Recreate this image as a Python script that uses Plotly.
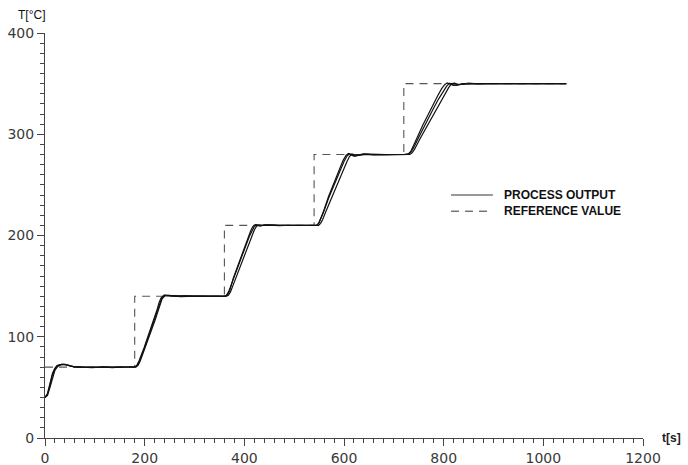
import plotly.graph_objects as go

# Set-point profile (reference value), time in s, temperature in °C
ref_t = [0, 180, 180, 360, 360, 540, 540, 720, 720, 1046]
ref_T = [70, 70, 140, 140, 210, 210, 280, 280, 350, 350]

# Measured process output, three runs (t [s], T [°C])
run_a = [(0, 40), (5, 43), (10, 52), (15, 62), (20, 68), (25, 71), (32, 72.5), (40, 72.8),
         (48, 71.8), (58, 70.4), (75, 70), (95, 69.4), (115, 70.3), (135, 69.6), (155, 70.1),
         (172, 69.9), (182, 70.3), (186, 72), (190, 76), (200, 89), (210, 103), (220, 117),
         (226, 126), (230, 133), (234, 138), (240, 140.8), (250, 141), (265, 139.8), (280, 140.3),
         (300, 139.8), (320, 140), (340, 140), (360, 140), (364, 141), (368, 144), (372, 149),
         (380, 160), (390, 173), (400, 186), (410, 199), (416, 206), (420, 209), (425, 210.6),
         (432, 209.4), (440, 210.5), (455, 210), (470, 209.8), (490, 210.2), (510, 210),
         (530, 210), (545, 210.3), (549, 212), (553, 216), (558, 222), (570, 238), (580, 250),
         (590, 262), (600, 273), (606, 278.5), (611, 280.8), (616, 280), (622, 278.5),
         (630, 279.4), (640, 280.6), (660, 279.6), (680, 280), (700, 280), (720, 280),
         (730, 281), (735, 283), (740, 287), (750, 297), (760, 307), (770, 317), (780, 326),
         (790, 335), (800, 343), (806, 347.5), (812, 350.5), (818, 349), (825, 348.3),
         (835, 349.4), (850, 350.3), (870, 349.8), (900, 350), (950, 350), (1000, 350),
         (1046, 350)]
run_b = [(0, 40), (5, 42), (10, 50), (15, 60), (20, 67), (26, 71), (34, 73), (42, 72.6),
         (52, 71), (65, 70), (90, 70.2), (120, 69.8), (150, 70), (183, 70.2), (187, 72),
         (191, 76), (201, 89), (211, 102.5), (221, 116.5), (227, 125.5), (231, 132.5),
         (235, 137.5), (241, 140.6), (258, 140.5), (275, 140), (300, 140.2), (330, 139.9),
         (364, 140), (368, 141), (372, 144), (376, 149), (384, 159.5), (394, 172.5),
         (404, 185.5), (414, 198.5), (420, 205.5), (424, 208.8), (429, 210.5), (438, 210),
         (460, 210.3), (500, 209.9), (549, 210), (553, 212), (557, 215.5), (563, 223),
         (575, 237.5), (586, 250), (596, 261.5), (606, 273), (611, 278), (616, 280.6),
         (624, 279.3), (640, 280.3), (680, 279.8), (732, 280), (737, 282), (742, 285.5),
         (752, 295), (762, 304), (772, 313), (782, 322), (792, 331), (802, 340), (810, 346),
         (816, 350), (822, 350.5), (830, 349), (845, 349.8), (880, 350), (1046, 350)]
run_c = [(0, 40), (5, 44), (10, 54), (15, 64), (20, 69), (24, 71.5), (30, 72.4), (38, 72.5),
         (46, 71.6), (56, 70.5), (80, 69.8), (110, 70.1), (140, 69.8), (181, 70.2), (185, 72.5),
         (189, 76.5), (199, 89.5), (209, 103.5), (219, 117.5), (225, 127), (229, 134),
         (233, 138.5), (239, 141), (250, 140.4), (272, 139.7), (300, 140.1), (340, 140),
         (363, 140.2), (367, 142), (371, 146), (378, 158), (388, 172), (398, 185),
         (407, 197.5), (413, 205), (417, 208.8), (422, 210.8), (430, 209.6), (445, 210.4),
         (480, 209.9), (546, 210.1), (550, 212.5), (554, 217), (559, 224), (569, 238.5),
         (579, 251), (589, 263), (598, 274), (604, 279), (609, 281), (614, 279.6),
         (620, 278.3), (628, 279.2), (645, 280.2), (690, 279.9), (729, 280.1), (734, 283),
         (739, 288), (748, 298), (758, 309), (768, 319), (778, 329), (788, 338), (796, 345),
         (802, 349), (807, 350.8), (813, 349.4), (820, 348.2), (832, 349.3), (848, 350.2),
         (880, 349.9), (1046, 350)]

x_ticks = [0, 200, 400, 600, 800, 1000, 1200]
y_ticks = [0, 100, 200, 300, 400]

AXIS_COLOR = "#444444"
TICK_FONT = dict(family="DejaVu Sans", size=14, color="#3a3a3a")

fig = go.Figure()

fig.add_trace(go.Scatter(
    x=ref_t, y=ref_T, mode="lines", name="REFERENCE VALUE",
    line=dict(color="#555555", width=1.1, dash="8px,6px"), showlegend=False,
))

for run in (run_b, run_c, run_a):
    t, T = zip(*run)
    fig.add_trace(go.Scatter(
        x=list(t), y=list(T), mode="lines", name="PROCESS OUTPUT",
        line=dict(color="#111111", width=1.2), showlegend=False,
    ))

# Hand-placed legend: sample lines plus labels
legend_x0, legend_x1, label_x = 0.679, 0.749, 0.764
rows = [(0.60, "solid", "PROCESS OUTPUT"), (0.56, "8px,6px", "REFERENCE VALUE")]
for y, dash, label in rows:
    fig.add_shape(type="line", xref="paper", yref="paper",
                  x0=legend_x0, x1=legend_x1, y0=y, y1=y,
                  line=dict(color="#333333", width=1, dash=dash))
    fig.add_annotation(xref="paper", yref="paper", x=label_x, y=y, text=f"<b>{label}</b>",
                       showarrow=False, xanchor="left", yanchor="middle",
                       font=dict(family="Liberation Sans", size=12, color="#111111"))

# Axis titles
fig.add_annotation(xref="paper", yref="paper", x=0.0, y=1.0, xshift=2, yshift=18,
                   text="T[°C]", showarrow=False, xanchor="right", yanchor="middle",
                   font=dict(family="Liberation Sans", size=12, color="#111111"))
fig.add_annotation(xref="paper", yref="paper", x=1.0, y=0.0, xshift=17,
                   text="<b>t[s]</b>", showarrow=False, xanchor="left", yanchor="middle",
                   font=dict(family="Liberation Sans", size=12, color="#222222"))

fig.update_xaxes(
    range=[0, 1200], tickvals=x_ticks, ticktext=[str(v) for v in x_ticks], automargin=False,
    showgrid=False, zeroline=False, showline=True, linecolor=AXIS_COLOR, linewidth=1,
    ticks="outside", ticklen=7, tickwidth=1, tickcolor=AXIS_COLOR, tickfont=TICK_FONT,
    minor=dict(ticks="outside", ticklen=4, tickwidth=1, tickcolor=AXIS_COLOR, dtick=20,
               tick0=0, showgrid=False),
)
fig.update_yaxes(
    range=[0, 400], tickvals=y_ticks, ticktext=[str(v) for v in y_ticks], automargin=False,
    showgrid=False, zeroline=False, showline=True, linecolor=AXIS_COLOR, linewidth=1,
    ticks="outside", ticklen=7, tickwidth=1, tickcolor=AXIS_COLOR, tickfont=TICK_FONT,
    minor=dict(ticks="outside", ticklen=4, tickwidth=1, tickcolor=AXIS_COLOR, dtick=10,
               tick0=0, showgrid=False),
)

fig.update_layout(
    width=688, height=465,
    margin=dict(l=45, r=45, t=33, b=27),
    paper_bgcolor="white", plot_bgcolor="white",
    showlegend=False,
)

fig.write_html("out.html")
